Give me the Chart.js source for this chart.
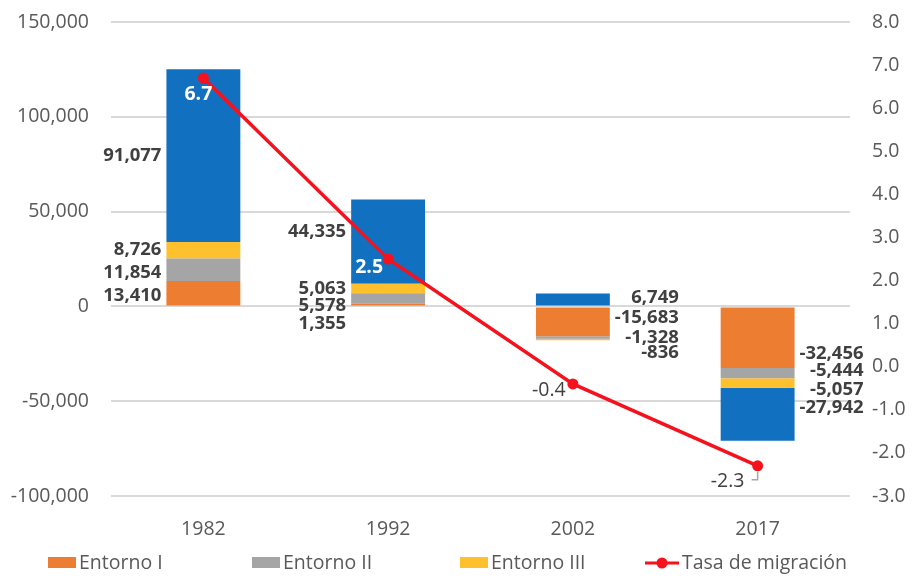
<!DOCTYPE html>
<html lang="es">
<head>
<meta charset="utf-8">
<title>Migración por entorno</title>
<script src="https://cdn.jsdelivr.net/npm/chart.js@4.4.1/dist/chart.umd.min.js"></script>
<style>
    html, body { margin: 0; padding: 0; background: #ffffff; }
    #wrap { width: 922px; height: 584px; }
</style>
</head>
<body>
<div id="wrap"><canvas id="migChart" width="922" height="584"></canvas></div>
<script>
// ─── DATA ─────────────────────────────────────────────────
const years      = ['1982', '1992', '2002', '2017'];
const entornoI   = [13410, 1355, -15683, -32456];
const entornoII  = [11854, 5578, -1328, -5444];
const entornoIII = [8726, 5063, -836, -5057];
const nucleo     = [91077, 44335, 6749, -27942];   // blue series, not in legend
const tasa       = [6.7, 2.5, -0.4, -2.3];

const leftMin = -100000, leftMax = 150000, leftStep = 50000;
const rightMin = -3, rightMax = 8, rightStep = 1;

// ─── LOOK ─────────────────────────────────────────────────
const FONT   = '"Open Sans", "Noto Sans", sans-serif';
const C_TEXT = '#595959';
const C_LBL  = '#404040';
const C_GRID = '#D9D9D9';
const C_RED  = '#F5121C';

const barColors = ['#ED7D31', '#A5A5A5', '#FFC02E', '#1170BF'];

// label placement: which side of the bar, and small vertical nudges (px)
const labelSide  = ['left', 'left', 'right', 'right'];
const labelNudge = [
    [3, 19, -4, 16],     // Entorno I
    [3, 7, 0, -2],       // Entorno II
    [0, 0, 13, 7],       // Entorno III
    [0, -10, -2, -7],    // blue
];
const lineLabel = [
    { dx: -5,  dy: 16, color: '#ffffff', bold: true },
    { dx: -19, dy: 8,  color: '#ffffff', bold: true },
    { dx: -24, dy: 6,  color: C_LBL,     bold: false },
    { dx: -30, dy: 16, color: C_LBL,     bold: false, leader: true },
];

const legendItems = [
    { text: 'Entorno I',         x: 48,  color: barColors[0] },
    { text: 'Entorno II',        x: 252, color: barColors[1] },
    { text: 'Entorno III',       x: 460, color: barColors[2] },
    { text: 'Tasa de migración', x: 645, color: C_RED, line: true },
];

const fmt = (v) => v.toLocaleString('en-US');

// pin the plot box: no automatic label padding at top/bottom
const fixWidth = (w) => (s) => {
    s.width = w;
    s.paddingTop = 0;
    s.paddingBottom = 0;
};

// ─── PLUGINS ──────────────────────────────────────────────
const valueLabels = {
    id: 'valueLabels',
    afterDatasetsDraw(chart) {
        const ctx = chart.ctx;
        ctx.save();
        ctx.textBaseline = 'middle';

        // bar segment labels
        for (let d = 0; d < 4; d++) {
            const meta = chart.getDatasetMeta(d);
            const values = chart.data.datasets[d].data;
            meta.data.forEach((bar, i) => {
                const cy = (bar.y + bar.base) / 2 + labelNudge[d][i];
                const half = bar.width / 2;
                ctx.font = `bold 18.5px ${FONT}`;
                ctx.fillStyle = C_LBL;
                ctx.textAlign = 'right';
                const x = labelSide[i] === 'left' ? bar.x - half - 5 : bar.x + half + 69;
                ctx.fillText(fmt(values[i]), x, cy);
            });
        }

        // line point labels
        const lineMeta = chart.getDatasetMeta(4);
        lineMeta.data.forEach((pt, i) => {
            const o = lineLabel[i];
            ctx.font = `${o.bold ? 'bold ' : ''}19.5px ${FONT}`;
            ctx.fillStyle = o.color;
            ctx.textAlign = 'center';
            ctx.fillText(tasa[i].toFixed(1), pt.x + o.dx, pt.y + o.dy);
            if (o.leader) {
                ctx.strokeStyle = '#A6A6A6';
                ctx.lineWidth = 1.5;
                ctx.beginPath();
                ctx.moveTo(pt.x, pt.y + 6);
                ctx.lineTo(pt.x, pt.y + 14);
                ctx.lineTo(pt.x - 6, pt.y + 14);
                ctx.stroke();
            }
        });
        ctx.restore();
    }
};

const bottomLegend = {
    id: 'bottomLegend',
    afterDraw(chart) {
        const ctx = chart.ctx;
        const y = 563;
        ctx.save();
        ctx.font = `19.5px ${FONT}`;
        ctx.textBaseline = 'middle';
        ctx.textAlign = 'left';
        legendItems.forEach((it) => {
            if (it.line) {
                ctx.strokeStyle = it.color;
                ctx.lineWidth = 3;
                ctx.beginPath();
                ctx.moveTo(it.x, y);
                ctx.lineTo(it.x + 34, y);
                ctx.stroke();
                ctx.fillStyle = it.color;
                ctx.beginPath();
                ctx.arc(it.x + 17, y, 5.5, 0, Math.PI * 2);
                ctx.fill();
                ctx.fillStyle = C_TEXT;
                ctx.fillText(it.text, it.x + 37, y);
            } else {
                ctx.fillStyle = it.color;
                ctx.fillRect(it.x, y - 6, 28, 11);
                ctx.fillStyle = C_TEXT;
                ctx.fillText(it.text, it.x + 31, y);
            }
        });
        ctx.restore();
    }
};

// ─── CHART ────────────────────────────────────────────────
const barSet = (label, data, color) => ({
    type: 'bar',
    label,
    data,
    backgroundColor: color,
    borderWidth: 0,
    stack: 'entornos',
    yAxisID: 'y',
    order: 2,
    barPercentage: 0.8,
    categoryPercentage: 0.5,
});

new Chart(document.getElementById('migChart').getContext('2d'), {
    type: 'bar',
    data: {
        labels: years,
        datasets: [
            barSet('Entorno I', entornoI, barColors[0]),
            barSet('Entorno II', entornoII, barColors[1]),
            barSet('Entorno III', entornoIII, barColors[2]),
            barSet('Núcleo', nucleo, barColors[3]),
            {
                type: 'line',
                label: 'Tasa de migración',
                data: tasa,
                yAxisID: 'y1',
                order: 1,
                borderColor: C_RED,
                backgroundColor: C_RED,
                borderWidth: 3.5,
                pointRadius: 5.5,
                pointBackgroundColor: C_RED,
                pointBorderWidth: 0,
                tension: 0,
            }
        ]
    },
    options: {
        responsive: false,
        animation: false,
        devicePixelRatio: 1,
        layout: { padding: { top: 22, bottom: 0, left: 0, right: 0 } },
        plugins: {
            legend: { display: false },
            tooltip: { enabled: false },
        },
        scales: {
            x: {
                stacked: true,
                grid: { display: false },
                border: { display: false },
                ticks: { color: C_TEXT, font: { family: FONT, size: 19.5 }, padding: 14 },
                afterFit: (s) => { s.height = 88; s.paddingLeft = 0; s.paddingRight = 0; },
            },
            y: {
                stacked: true,
                position: 'left',
                min: leftMin,
                max: leftMax,
                grid: { color: C_GRID, lineWidth: 2, drawTicks: false },
                border: { display: false },
                ticks: {
                    stepSize: leftStep,
                    color: C_TEXT,
                    font: { family: FONT, size: 19.5 },
                    padding: 22,
                    callback: (v) => fmt(v),
                },
                afterFit: fixWidth(111),
            },
            y1: {
                position: 'right',
                min: rightMin,
                max: rightMax,
                grid: { display: false, drawTicks: false },
                border: { display: false },
                ticks: {
                    stepSize: rightStep,
                    color: C_TEXT,
                    font: { family: FONT, size: 19.5 },
                    padding: 22,
                    callback: (v) => v.toFixed(1),
                },
                afterFit: fixWidth(72),
            }
        }
    },
    plugins: [valueLabels, bottomLegend]
});
</script>
</body>
</html>
